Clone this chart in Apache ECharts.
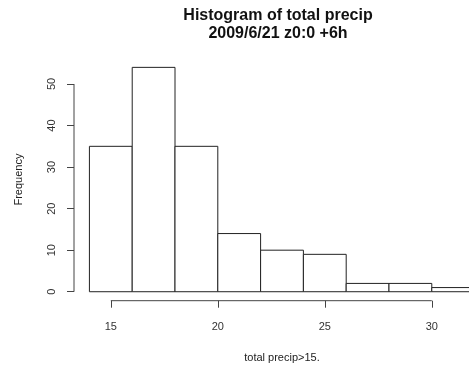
<!DOCTYPE html>
<html>
<head>
<meta charset="utf-8">
<script src="https://cdn.jsdelivr.net/npm/echarts@6/dist/echarts.min.js"></script>
<style>
  html, body { margin: 0; padding: 0; background: #fff; }
  #chart { width: 469px; height: 371px; }
</style>
</head>
<body>
<div id="chart"></div>
<script>
// histogram breaks and counts
const binEdges = [14, 16, 18, 20, 22, 24, 26, 28, 30, 32];
const counts = [35, 54, 35, 14, 10, 9, 2, 2, 1];
const xTicks = [15, 20, 25, 30];
const yTicks = [0, 10, 20, 30, 40, 50];

// R pads the axis ranges by 4%
const xMin = 13.28, xMax = 32.72;
const yMin = -2.16, yMax = 56.16;

const bins = counts.map((c, i) => [binEdges[i], binEdges[i + 1], c]);

const chart = echarts.init(document.getElementById('chart'));
const font = '"Liberation Sans", Arial, Helvetica, sans-serif';

chart.setOption({
  animation: false,
  title: [
    {
      text: 'Histogram of total precip\n2009/6/21 z0:0 +6h',
      left: 273, top: 2, textAlign: 'center',
      textStyle: { fontFamily: font, fontSize: 16, fontWeight: 'bold', color: '#111', lineHeight: 18 }
    }
  ],
  grid: { left: 74, top: 58.4, width: 416, height: 242.3, outerBoundsMode: 'none', containLabel: false },
  xAxis: {
    type: 'value', min: xMin, max: xMax,
    name: 'total precip>15.', nameLocation: 'middle', nameGap: 52,
    nameTextStyle: { fontFamily: font, fontSize: 11, color: '#222' },
    axisLine: { show: false, onZero: false },
    splitLine: { show: false },
    axisTick: { show: true, customValues: xTicks, length: 7, lineStyle: { color: '#444' } },
    axisLabel: { customValues: xTicks, margin: 21, fontFamily: font, fontSize: 11, color: '#333' }
  },
  yAxis: {
    type: 'value', min: yMin, max: yMax,
    name: 'Frequency', nameLocation: 'middle', nameGap: 50,
    nameTextStyle: { fontFamily: font, fontSize: 11, color: '#222' },
    axisLine: { show: false, onZero: false },
    splitLine: { show: false },
    axisTick: { show: true, customValues: yTicks, length: 7, lineStyle: { color: '#444' } },
    axisLabel: { customValues: yTicks, rotate: 90, margin: 17, fontFamily: font, fontSize: 11, color: '#333' }
  },
  series: [
    {
      type: 'custom',
      data: bins,
      renderItem: function (params, api) {
        const p0 = api.coord([api.value(0), api.value(2)]);
        const p1 = api.coord([api.value(1), 0]);
        return {
          type: 'rect',
          shape: { x: p0[0], y: p0[1], width: p1[0] - p0[0], height: p1[1] - p0[1] },
          style: { fill: '#fff', stroke: '#222', lineWidth: 1 }
        };
      }
    },
    {
      // R style axis lines spanning first to last tick
      type: 'custom',
      silent: true,
      data: [[0]],
      renderItem: function (params, api) {
        const xa = api.coord([xTicks[0], yMin]);
        const xb = api.coord([xTicks[xTicks.length - 1], yMin]);
        const ya = api.coord([xMin, yTicks[0]]);
        const yb = api.coord([xMin, yTicks[yTicks.length - 1]]);
        return {
          type: 'group',
          children: [
            { type: 'line', shape: { x1: xa[0], y1: xa[1], x2: xb[0], y2: xb[1] }, style: { stroke: '#444', lineWidth: 1 } },
            { type: 'line', shape: { x1: ya[0], y1: ya[1], x2: yb[0], y2: yb[1] }, style: { stroke: '#444', lineWidth: 1 } }
          ]
        };
      }
    }
  ]
});
</script>
</body>
</html>
